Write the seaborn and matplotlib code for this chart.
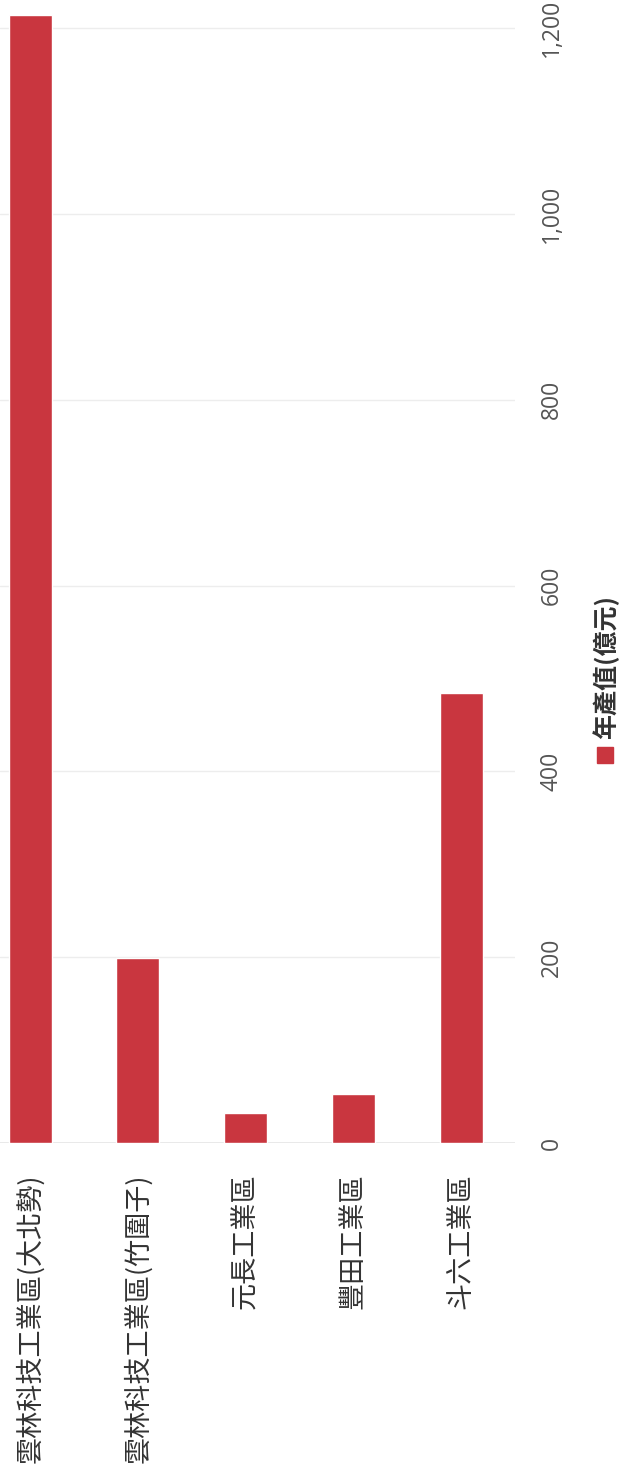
import matplotlib
matplotlib.use("Agg")
import matplotlib.pyplot as plt
import seaborn as sns
import pandas as pd
from matplotlib.patches import Rectangle

categories = ["雲林科技工業區(大北勢)", "雲林科技工業區(竹圍子)", "元長工業區", "豐田工業區", "斗六工業區"]
values = [1214, 199, 32, 53, 484]
series_name = "年產值(億元)"
yticks = [0, 200, 400, 600, 800, 1000, 1200]
ytick_labels = ["0", "200", "400", "600", "800", "1,000", "1,200"]

sns.set_theme(style="white")
plt.rcParams['font.family'] = ['Noto Sans CJK TC', 'DejaVu Sans']

W, H = 620, 1481
fig = plt.figure(figsize=(W / 100, H / 100), dpi=100)
ax_left, ax_right = 0 / W, 515 / W
ax_bottom, ax_top = (H - 1143) / H, (H - 5) / H
ax = fig.add_axes([ax_left, ax_bottom, ax_right - ax_left, ax_top - ax_bottom])

df = pd.DataFrame({"cat": categories, "val": values})
bar_color = "#c9363f"
sns.barplot(data=df, x="cat", y="val", color=bar_color, width=0.4, ax=ax,
            saturation=1, zorder=3)

ax.set_xlim(-0.28, 4.5)
ax.set_ylim(0, 1138 / 0.929)
ax.set_xlabel("")
ax.set_ylabel("")

ax.yaxis.tick_right()
ax.set_yticks(yticks)
ax.set_yticklabels(ytick_labels, rotation=90, va="center", color="#555555",
                   fontsize=16.5, family=["Open Sans", "DejaVu Sans"])
ax.tick_params(axis="y", length=0, pad=18)
ax.tick_params(axis="x", length=0, pad=22)
for lbl in ax.get_xticklabels():
    lbl.set_rotation(90)
    lbl.set_va("top")
    lbl.set_ha("center")
    lbl.set_fontsize(19.5)
    lbl.set_color("#333333")

ax.grid(axis="y", color="#ededed", linewidth=1, zorder=0)
ax.grid(axis="x", visible=False)
for s in ["top", "left", "right", "bottom"]:
    ax.spines[s].set_visible(False)
ax.axhline(0, color="#e6e6e6", linewidth=1.2, zorder=2)

# legend (rotated)
sq_x0, sq_y0, sq = 597, 747, 16
fig.patches.append(Rectangle((sq_x0 / W, (H - sq_y0 - sq) / H), sq / W, sq / H,
                             transform=fig.transFigure, color=bar_color, figure=fig))
fig.text(606 / W, (H - 739) / H, series_name, rotation=90, ha="center", va="bottom",
         fontsize=18, color="#333333", fontweight="bold")

fig.savefig("out.png", dpi=100, facecolor="white")
